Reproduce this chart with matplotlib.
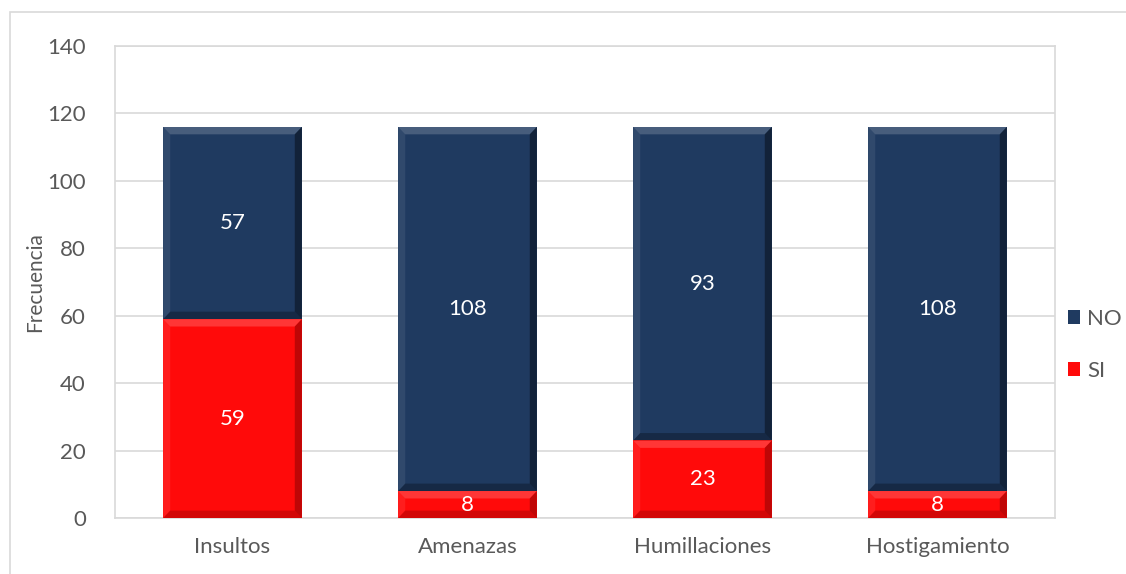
import matplotlib
matplotlib.use('Agg')
import matplotlib.pyplot as plt
from matplotlib.patches import Polygon, Rectangle

# Datos del grafico
categorias = ["Insultos", "Amenazas", "Humillaciones", "Hostigamiento"]
si = [59, 8, 23, 8]
no = [57, 108, 93, 108]
ticks_y = [0, 20, 40, 60, 80, 100, 120, 140]

azul = "#1F3A60"
rojo = "#FF0A0A"
gris = "#595959"

plt.rcParams['font.family'] = ['Lato', 'DejaVu Sans']

fig = plt.figure(figsize=(11.26, 5.74), dpi=100)
ax = fig.add_axes([115 / 1126, 56 / 574, 940 / 1126, 472 / 574])

# borde exterior del grafico
fig.patches.append(Rectangle((10 / 1126, -0.1), 1.2, (574 - 12) / 574 + 0.1,
                             transform=fig.transFigure, fill=False,
                             edgecolor="#D9D9D9", lw=1.2))

x = range(len(categorias))
ancho = 0.59
b_si = ax.bar(x, si, ancho, color=rojo, zorder=3)
b_no = ax.bar(x, no, ancho, bottom=si, color=azul, zorder=3)


# bisel simple sobre cada barra
def bisel(barra, claro, oscuro):
    x0, y0 = barra.get_x(), barra.get_y()
    w, h = barra.get_width(), barra.get_height()
    dx, dy = 0.03, min(2.2, h / 3)
    x1, y1 = x0 + w, y0 + h
    ax.add_patch(Polygon([(x0, y1), (x1, y1), (x1 - dx, y1 - dy), (x0 + dx, y1 - dy)],
                         closed=True, color=claro, alpha=0.18, lw=0, zorder=4))
    ax.add_patch(Polygon([(x1, y1), (x1, y0), (x1 - dx, y0 + dy), (x1 - dx, y1 - dy)],
                         closed=True, color=oscuro, alpha=0.4, lw=0, zorder=4))
    ax.add_patch(Polygon([(x0, y0), (x1, y0), (x1 - dx, y0 + dy), (x0 + dx, y0 + dy)],
                         closed=True, color=oscuro, alpha=0.28, lw=0, zorder=4))
    ax.add_patch(Polygon([(x0, y0), (x0, y1), (x0 + dx, y1 - dy), (x0 + dx, y0 + dy)],
                         closed=True, color=claro, alpha=0.08, lw=0, zorder=4))


for b in b_si:
    bisel(b, "white", "#600000")
for b in b_no:
    bisel(b, "white", "black")

for i in x:
    ax.text(i, si[i] / 2, str(si[i]), ha="center", va="center",
            color="white", fontsize=16, zorder=5)
    ax.text(i, si[i] + no[i] / 2, str(no[i]), ha="center", va="center",
            color="white", fontsize=16, zorder=5)

ax.set_xlim(-0.5, 3.5)
ax.set_ylim(0, 140)
ax.set_yticks(ticks_y)
ax.set_xticks(list(x))
ax.set_xticklabels(categorias)
ax.tick_params(axis="both", length=0, labelsize=16, labelcolor=gris)
ax.tick_params(axis="x", pad=14)
ax.tick_params(axis="y", pad=21)
ax.yaxis.grid(True, color="#D9D9D9", lw=1.2, zorder=0)
for s in ax.spines.values():
    s.set_color("#D9D9D9")
    s.set_linewidth(1.2)
ax.set_ylabel("Frecuencia", fontsize=15, color=gris)
ax.yaxis.set_label_coords(-70 / 940, 0.5)

# leyenda
leg = ax.legend([b_no, b_si], ["NO", "SI"], loc="center left",
                bbox_to_anchor=(1.0138, 0.367), frameon=False, fontsize=16,
                handlelength=0.55, handleheight=0.55, handletextpad=0.3,
                labelspacing=1.44, labelcolor=gris,
                borderpad=0, borderaxespad=0)

fig.savefig("out.png", dpi=100)
